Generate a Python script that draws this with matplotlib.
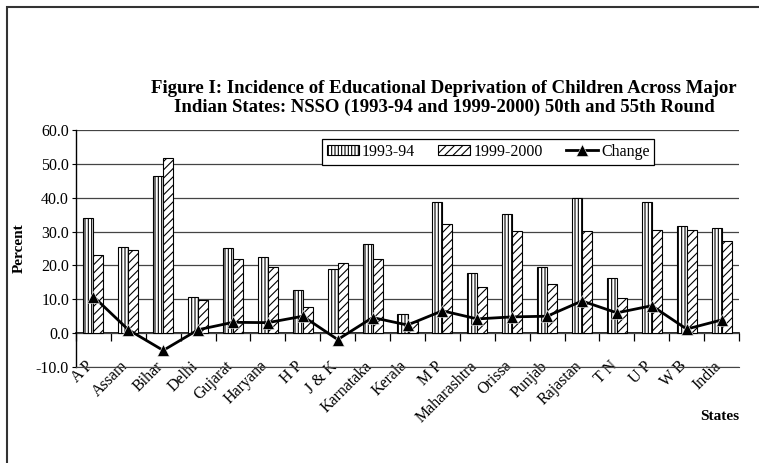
import matplotlib
matplotlib.use("Agg")
import matplotlib.pyplot as plt
import matplotlib.transforms as mtransforms
import numpy as np
from matplotlib.patches import Rectangle

plt.rcParams["font.family"] = ["Liberation Serif", "DejaVu Serif"]
plt.rcParams["hatch.linewidth"] = 0.8

states = ["A P", "Assam", "Bihar", "Delhi", "Gujarat", "Haryana", "H P", "J & K",
          "Karnataka", "Kerala", "M P", "Maharashtra", "Orissa", "Punjab",
          "Rajastan", "T N", "U P", "W B", "India"]
y1993 = [34.1, 25.5, 46.5, 10.7, 25.0, 22.5, 12.8, 18.8, 26.4, 5.6,
         38.7, 17.7, 35.1, 19.4, 39.8, 16.4, 38.7, 31.7, 31.1]
y1999 = [23.0, 24.5, 51.6, 9.7, 21.8, 19.4, 7.8, 20.7, 21.8, 3.2,
         32.1, 13.5, 30.3, 14.4, 30.3, 10.4, 30.6, 30.5, 27.2]
change = [10.8, 1.0, -5.1, 1.0, 3.2, 3.1, 5.0, -1.9, 4.6, 2.4,
          6.6, 4.2, 4.8, 5.0, 9.5, 6.0, 8.1, 1.2, 3.9]

W, H = 759, 463
fig = plt.figure(figsize=(W / 100, H / 100), dpi=100)

# outer chart frame (only top/left visible in the original crop)
fig.patches.append(Rectangle((7 / W, -0.05), 1.1, 1 - 7 / H + 0.05,
                             transform=fig.transFigure, fill=False,
                             edgecolor="#333333", linewidth=1.5))

ax = fig.add_axes([76 / W, (H - 367) / H, (739 - 76) / W, (367 - 130) / H])
x = np.arange(len(states))
bw = 0.287

b1 = ax.bar(x - bw / 2, y1993, bw, facecolor="white", edgecolor="black",
            hatch="|||||", linewidth=0.8, label="1993-94", zorder=2)
b2 = ax.bar(x + bw / 2, y1999, bw, facecolor="white", edgecolor="black",
            hatch="////", linewidth=0.8, label="1999-2000", zorder=2)
ln, = ax.plot(x, change, color="black", linewidth=2, marker="^", markersize=9,
              markeredgecolor="white", markeredgewidth=0.4, label="Change", zorder=3)

ax.set_xlim(-0.5, len(states) - 0.5)
ax.set_ylim(-10, 60)
ax.set_yticks(np.arange(-10, 61, 10))
ax.set_yticklabels([f"{v:.1f}" for v in np.arange(-10, 61, 10)], fontsize=11.5)
ax.yaxis.grid(True, color="#444444", linewidth=0.9)
ax.set_axisbelow(True)
ax.tick_params(axis="y", direction="out", length=3, width=0.8, pad=2)

for s in ["top", "right"]:
    ax.spines[s].set_visible(False)
ax.spines["left"].set_linewidth(1.0)
ax.spines["bottom"].set_color("#444444")

ax.set_xticks(x)
ax.set_xticklabels(states, rotation=45, ha="right", va="top",
                   rotation_mode="anchor", fontsize=11.5)
ax.tick_params(axis="x", length=0, pad=0)
shift = mtransforms.ScaledTranslation(-8 / 100, 9 / 100, fig.dpi_scale_trans)
for lab in ax.get_xticklabels():
    lab.set_transform(lab.get_transform() + shift)

# category axis at zero with ticks between categories
sec = ax.secondary_xaxis(10 / 70)
sec.set_xticks(np.arange(-0.5, len(states), 1.0))
sec.set_xticklabels([])
sec.tick_params(direction="out", length=6, width=0.9)
sec.spines["bottom"].set_linewidth(1.2)

ax.set_ylabel("Percent", fontsize=11, fontweight="bold", labelpad=7)
fig.text(739 / W, 1 - 416 / H, "States", ha="right", va="center",
         fontsize=11, fontweight="bold")

fig.text(444 / W, 1 - 98 / H,
         "Figure I: Incidence of Educational Deprivation of Children Across Major\n"
         "Indian States: NSSO (1993-94 and 1999-2000) 50th and 55th Round",
         ha="center", va="center", fontsize=13.5, fontweight="bold",
         linespacing=1.1)

leg = ax.legend(handles=[b1, b2, ln], loc="upper left",
                bbox_to_anchor=(322 / W, 1 - 139 / H),
                bbox_transform=fig.transFigure, ncol=3, fontsize=11.5,
                frameon=True, fancybox=False, framealpha=1, edgecolor="black",
                handlelength=2.0, handleheight=0.6, handletextpad=0.2,
                columnspacing=1.45, borderpad=0.3, borderaxespad=0)
leg.get_frame().set_linewidth(0.9)

fig.savefig("out.png", dpi=100)
